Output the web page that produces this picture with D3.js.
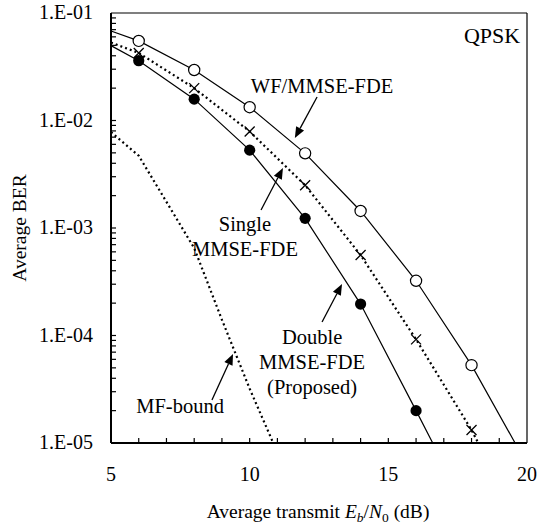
<!DOCTYPE html>
<html>
<head>
<meta charset="utf-8">
<script src="https://cdn.jsdelivr.net/npm/d3@7.9.0/dist/d3.min.js"></script>
<style>
  body { margin: 0; background: #fff; }
  svg { display: block; }
  text { font-family: "Liberation Serif", "Times New Roman", serif; fill: #000; }
</style>
</head>
<body>
<svg id="chart" width="538" height="524"></svg>
<script>
// ---- data ----
const wfX = [5, 6, 8, 10, 12, 14, 16, 18, 19.57];
const wfBer = [6.8e-2, 5.5e-2, 2.95e-2, 1.33e-2, 4.95e-3, 1.44e-3, 3.23e-4, 5.3e-5, 1e-5];

const singleX = [5, 6, 8, 10, 12, 14, 16, 18, 18.24];
const singleBer = [5.3e-2, 4.25e-2, 2.0e-2, 7.9e-3, 2.5e-3, 5.6e-4, 9.2e-5, 1.32e-5, 1e-5];

const doubleX = [5, 6, 8, 10, 12, 14, 16, 16.6];
const doubleBer = [4.97e-2, 3.6e-2, 1.58e-2, 5.3e-3, 1.23e-3, 1.96e-4, 2.0e-5, 1e-5];

const mfX = [5, 6, 7, 8, 9, 10, 10.85];
const mfBer = [7.8e-3, 4.7e-3, 1.75e-3, 6.5e-4, 1.4e-4, 3.2e-5, 1e-5];

// markers only at the simulated points (not the curve ends)
const markerX = [6, 8, 10, 12, 14, 16, 18];

const xTicks = [5, 10, 15, 20];
const yTicks = [1e-1, 1e-2, 1e-3, 1e-4, 1e-5];
const yTickLabels = ["1.E-01", "1.E-02", "1.E-03", "1.E-04", "1.E-05"];

const width = 538, height = 524;
const margin = { left: 111, right: 11, top: 13, bottom: 81 };
const tickFont = 20;
const noteFont = 20.5;

const svg = d3.select("#chart");

let x = d3.scaleLinear().domain([5, 20]).range([margin.left, width - margin.right]);
let y = d3.scaleLog().domain([1e-5, 1e-1]).range([height - margin.bottom, margin.top]);

const x0 = x(5), x1 = x(20), y0 = y(1e-5), y1 = y(1e-1);

// frame: top & right thin, left & bottom thicker
svg.append("line").attr("x1", x0).attr("x2", x1).attr("y1", y1).attr("y2", y1)
  .attr("stroke", "#000").attr("stroke-width", 1.2);
svg.append("line").attr("x1", x1).attr("x2", x1).attr("y1", y1).attr("y2", y0)
  .attr("stroke", "#000").attr("stroke-width", 1.2);

// minor ticks on x (every 1 dB, pointing in)
let xMinor = d3.range(6, 20, 1);
svg.append("g").selectAll("line").data(xMinor).join("line")
  .attr("x1", (d) => x(d)).attr("x2", (d) => x(d))
  .attr("y1", y0).attr("y2", y0 - 5)
  .attr("stroke", "#000").attr("stroke-width", 1.2);

// log ticks on y (pointing in)
let yMinor = [];
for (let e = -5; e < -1; e++) {
  for (let k = 2; k <= 9; k++) yMinor.push(k * Math.pow(10, e));
}
yMinor = yMinor.concat(yTicks.slice(1, 4));
svg.append("g").selectAll("line").data(yMinor).join("line")
  .attr("x1", x0).attr("x2", x0 + 5)
  .attr("y1", (d) => y(d)).attr("y2", (d) => y(d))
  .attr("stroke", "#000").attr("stroke-width", 1.2);

svg.append("line").attr("x1", x0).attr("x2", x0).attr("y1", y1).attr("y2", y0)
  .attr("stroke", "#000").attr("stroke-width", 2);
svg.append("line").attr("x1", x0).attr("x2", x1).attr("y1", y0).attr("y2", y0)
  .attr("stroke", "#000").attr("stroke-width", 2);

// tick labels
svg.append("g").selectAll("text").data(xTicks).join("text")
  .attr("x", (d) => x(d)).attr("y", y0 + 38)
  .attr("text-anchor", "middle").attr("font-size", tickFont)
  .text((d) => d);

svg.append("g").selectAll("text").data(yTicks).join("text")
  .attr("x", x0 - 18).attr("y", (d) => y(d) + 6)
  .attr("text-anchor", "end").attr("font-size", tickFont)
  .text((d, i) => yTickLabels[i]);

// axis titles
let xt = svg.append("text").attr("x", 318).attr("y", 518)
  .attr("text-anchor", "middle").attr("font-size", 19.5);
xt.append("tspan").text("Average transmit ");
xt.append("tspan").attr("font-style", "italic").text("E");
xt.append("tspan").attr("font-style", "italic").attr("font-size", 13.5).attr("dy", 4).text("b");
xt.append("tspan").attr("dy", -4).text("/");
xt.append("tspan").attr("font-style", "italic").text("N");
xt.append("tspan").attr("font-size", 13.5).attr("dy", 4).text("0");
xt.append("tspan").attr("dy", -4).text(" (dB)");

svg.append("text")
  .attr("transform", `translate(26,${(y0 + y1) / 2}) rotate(-90)`)
  .attr("text-anchor", "middle").attr("font-size", 19.5)
  .text("Average BER");

// curves
let lineGen = d3.line().x((d) => x(d[0])).y((d) => y(d[1]));
function curve(xs, ys, dotted) {
  let pts = xs.map((v, i) => [v, ys[i]]);
  svg.append("path").attr("d", lineGen(pts))
    .attr("fill", "none").attr("stroke", "#000")
    .attr("stroke-width", dotted ? 2.2 : 1.2)
    .attr("stroke-dasharray", dotted ? "2,3" : null);
}
curve(wfX, wfBer, false);
curve(singleX, singleBer, true);
curve(doubleX, doubleBer, false);
curve(mfX, mfBer, true);

function pick(xs, ys) {
  return xs.map((v, i) => [v, ys[i]]).filter((d) => markerX.includes(d[0]));
}

// markers
svg.append("g").selectAll("circle").data(pick(wfX, wfBer)).join("circle")
  .attr("cx", (d) => x(d[0])).attr("cy", (d) => y(d[1])).attr("r", 5.6)
  .attr("fill", "#fff").attr("stroke", "#000").attr("stroke-width", 1.2);

svg.append("g").selectAll("path").data(pick(singleX, singleBer)).join("path")
  .attr("d", (d) => {
    let cx = x(d[0]), cy = y(d[1]), s = 5;
    return `M${cx - s},${cy - s}L${cx + s},${cy + s}M${cx - s},${cy + s}L${cx + s},${cy - s}`;
  })
  .attr("stroke", "#000").attr("stroke-width", 1.3).attr("fill", "none");

svg.append("g").selectAll("circle").data(pick(doubleX, doubleBer)).join("circle")
  .attr("cx", (d) => x(d[0])).attr("cy", (d) => y(d[1])).attr("r", 5.6)
  .attr("fill", "#000");

// annotations (positions in data units)
function arrow(fx, fb, tx, tb) {
  let ax = x(fx), ay = y(fb), bx = x(tx), by = y(tb);
  let ang = Math.atan2(by - ay, bx - ax);
  let len = 11, half = 4.5;
  let baseX = bx - len * Math.cos(ang), baseY = by - len * Math.sin(ang);
  svg.append("line").attr("x1", ax).attr("y1", ay).attr("x2", baseX).attr("y2", baseY)
    .attr("stroke", "#000").attr("stroke-width", 1.3);
  let px = -Math.sin(ang) * half, py = Math.cos(ang) * half;
  svg.append("path")
    .attr("d", `M${bx},${by}L${baseX + px},${baseY + py}L${baseX - px},${baseY - py}Z`)
    .attr("fill", "#000");
}
function label(lines, lx, lb, size) {
  let t = svg.append("text").attr("x", x(lx)).attr("y", y(lb) + 6)
    .attr("text-anchor", "middle").attr("font-size", size || noteFont);
  lines.forEach((s, i) => {
    t.append("tspan").attr("x", x(lx)).attr("dy", i === 0 ? 0 : 25).text(s);
  });
}

label(["QPSK"], 18.74, 10 ** -1.22, 22);

label(["WF/MMSE-FDE"], 12.61, 10 ** -1.688);
arrow(12.43, 10 ** -1.781, 11.63, 10 ** -2.163);

label(["Single", "MMSE-FDE"], 9.83, 10 ** -2.972);
arrow(10.41, 10 ** -2.833, 11.2, 10 ** -2.442);

label(["Double", "MMSE-FDE", "(Proposed)"], 12.25, 10 ** -4.023);
arrow(12.61, 10 ** -3.874, 13.33, 10 ** -3.521);

label(["MF-bound"], 7.49, 10 ** -4.665);
arrow(8.64, 10 ** -4.6, 9.4, 10 ** -4.172);
</script>
</body>
</html>
